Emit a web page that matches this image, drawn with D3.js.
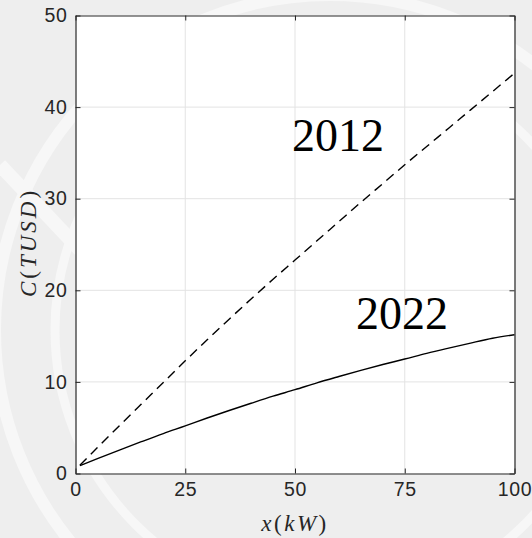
<!DOCTYPE html>
<html>
<head>
<meta charset="utf-8">
<script src="https://cdn.jsdelivr.net/npm/d3@7"></script>
<style>
  html, body { margin: 0; padding: 0; background: #eeeeee; }
  svg { display: block; }
</style>
</head>
<body>
<svg id="chart" width="532" height="538"></svg>
<script>
// Installed power (kW) at which the cost curves are sampled
const powerKW = [1, 5, 10, 15, 20, 25, 30, 35, 40, 45, 50, 55, 60, 65, 70, 75, 80, 85, 90, 95, 100];
// Cost in thousands of USD, 2012 prices
const cost2012 = [0.9, 2.83, 5.22, 7.58, 9.93, 12.3, 14.6, 16.85, 19.05, 21.2, 23.3, 25.4, 27.5, 29.6, 31.65, 33.7, 35.7, 37.7, 39.7, 41.7, 43.7];
// Cost in thousands of USD, 2022 prices
const cost2022 = [0.85, 1.62, 2.56, 3.47, 4.36, 5.2, 6.06, 6.88, 7.67, 8.44, 9.15, 9.9, 10.59, 11.26, 11.9, 12.5, 13.12, 13.69, 14.24, 14.76, 15.15];
const xTicks = [0, 25, 50, 75, 100];
const yTicks = [0, 10, 20, 30, 40, 50];
const seriesLabels = ["2012", "2022"];

const svg = d3.select("#chart");
const m = { left: 75.5, right: 514.5, top: 15.5, bottom: 473.5 };

// faint watermark arcs in the page background
const wm = svg.append("g").attr("fill", "none").attr("stroke", "#f7f7f7");
wm.append("circle").attr("cx", 330).attr("cy", 330).attr("r", 335).attr("stroke-width", 12);
wm.append("circle").attr("cx", 330).attr("cy", 330).attr("r", 275).attr("stroke-width", 9);
wm.append("line").attr("x1", 0).attr("y1", 165).attr("x2", 80).attr("y2", 250).attr("stroke-width", 14);

const x = d3.scaleLinear().domain([0, 100]).range([m.left, m.right]);
const y = d3.scaleLinear().domain([0, 50]).range([m.bottom, m.top]);

// plot area
svg.append("rect")
  .attr("x", m.left).attr("y", m.top)
  .attr("width", m.right - m.left).attr("height", m.bottom - m.top)
  .attr("fill", "#ffffff");

// grid
const grid = svg.append("g").attr("stroke", "#e3e3e3").attr("stroke-width", 1);
xTicks.slice(1, -1).forEach(t => {
  grid.append("line").attr("x1", x(t)).attr("x2", x(t)).attr("y1", m.top).attr("y2", m.bottom);
});
yTicks.slice(1, -1).forEach(t => {
  grid.append("line").attr("y1", y(t)).attr("y2", y(t)).attr("x1", m.left).attr("x2", m.right);
});

// curves
const line = d3.line().x((d, i) => x(powerKW[i])).y(d => y(d)).curve(d3.curveMonotoneX);
svg.append("path").datum(cost2012)
  .attr("d", line).attr("fill", "none").attr("stroke", "#000")
  .attr("stroke-width", 1.4).attr("stroke-dasharray", "9.5,6");
svg.append("path").datum(cost2022)
  .attr("d", line).attr("fill", "none").attr("stroke", "#000")
  .attr("stroke-width", 1.4);

// axes with inward ticks, mirrored on the opposite sides
const axisColor = "#262626";
const font = "'Liberation Sans', Arial, sans-serif";
const tickLen = 5;

const xAxis = d3.axisBottom(x).tickValues(xTicks).tickSizeInner(-tickLen).tickSizeOuter(0).tickPadding(9);
const gx = svg.append("g").attr("transform", `translate(0,${m.bottom})`).call(xAxis);
const xTop = d3.axisTop(x).tickValues(xTicks).tickSizeInner(-tickLen).tickSizeOuter(0).tickFormat("");
const gxt = svg.append("g").attr("transform", `translate(0,${m.top})`).call(xTop);
const yAxis = d3.axisLeft(y).tickValues(yTicks).tickSizeInner(-tickLen).tickSizeOuter(0).tickPadding(8);
const gy = svg.append("g").attr("transform", `translate(${m.left},0)`).call(yAxis);
const yRight = d3.axisRight(y).tickValues(yTicks).tickSizeInner(-tickLen).tickSizeOuter(0).tickFormat("");
const gyr = svg.append("g").attr("transform", `translate(${m.right},0)`).call(yRight);

[gx, gxt, gy, gyr].forEach(g => {
  g.attr("font-size", null).attr("font-family", null);
  g.select(".domain").attr("stroke", axisColor).attr("stroke-width", 1.2);
  g.selectAll(".tick line").attr("stroke", axisColor).attr("stroke-width", 1);
  g.selectAll(".tick text")
    .attr("fill", axisColor)
    .style("font-family", font)
    .style("font-size", "19.5px")
    .style("letter-spacing", "0.6px");
});
gx.selectAll(".tick text").attr("dy", "0.71em");

// axis titles
const serif = "'Liberation Serif', 'DejaVu Serif', serif";
const xt = svg.append("text").attr("x", (m.left + m.right) / 2).attr("y", 531)
  .attr("text-anchor", "middle").style("font-family", serif).style("font-size", "23px")
  .style("letter-spacing", "2.5px").attr("fill", axisColor);
xt.append("tspan").attr("font-style", "italic").text("x");
xt.append("tspan").text("(");
xt.append("tspan").attr("font-style", "italic").text("kW");
xt.append("tspan").text(")");

const yt = svg.append("text")
  .attr("transform", `translate(36,${(m.top + m.bottom) / 2 - 2}) rotate(-90)`)
  .attr("text-anchor", "middle").style("font-family", serif).style("font-size", "23px")
  .style("letter-spacing", "3px").attr("fill", axisColor);
yt.append("tspan").attr("font-style", "italic").text("C");
yt.append("tspan").text("(");
yt.append("tspan").attr("font-style", "italic").text("TUSD");
yt.append("tspan").text(")");

// series annotations
const annoFont = "'Liberation Serif', 'Times New Roman', serif";
svg.append("text").attr("x", 292).attr("y", 151)
  .style("font-family", annoFont).style("font-size", "46px")
  .attr("fill", "#000").text(seriesLabels[0]);
svg.append("text").attr("x", 356).attr("y", 329)
  .style("font-family", annoFont).style("font-size", "46px")
  .attr("fill", "#000").text(seriesLabels[1]);
</script>
</body>
</html>
